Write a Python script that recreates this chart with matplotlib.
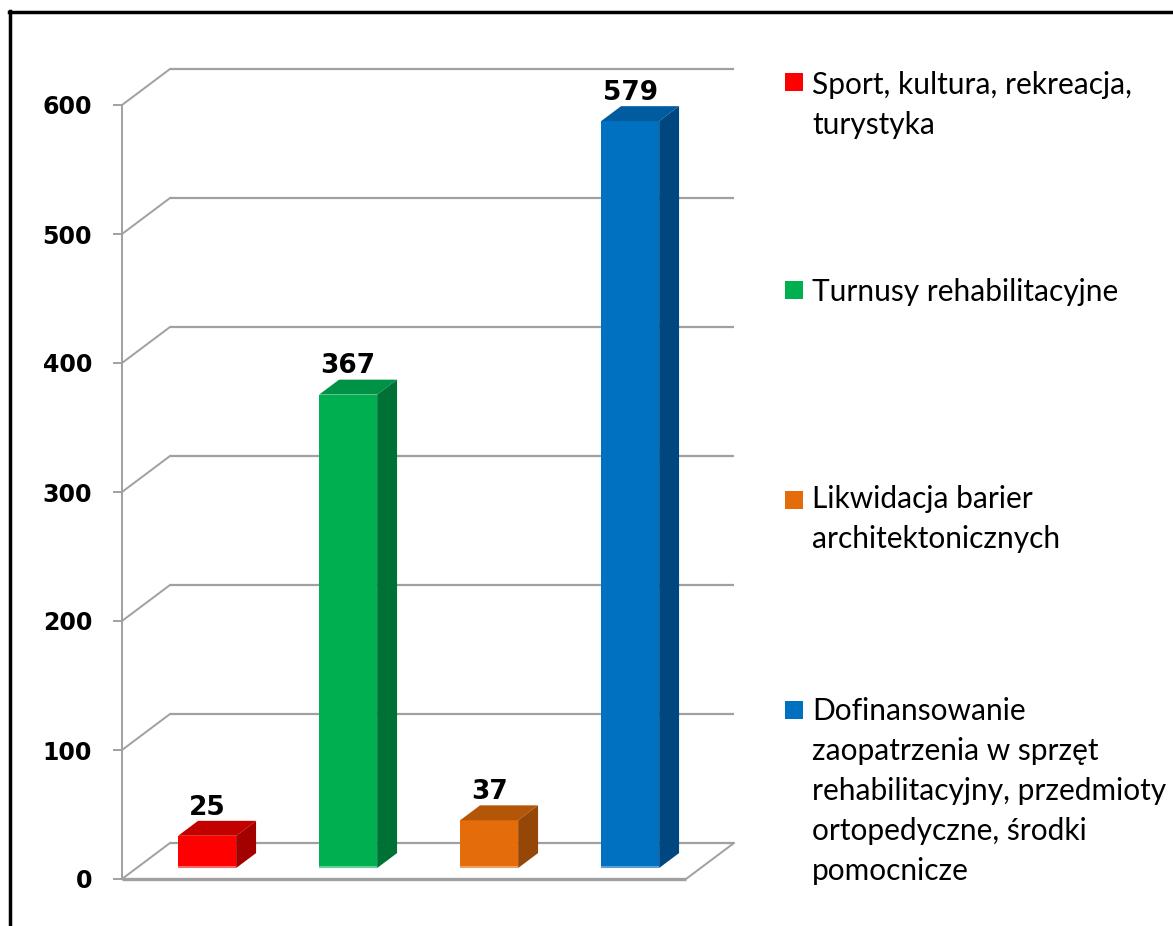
import matplotlib
matplotlib.use("Agg")
import matplotlib.pyplot as plt
from matplotlib.patches import Polygon, Rectangle
from matplotlib.lines import Line2D

# ---- data ----
categories = [
    "Sport, kultura, rekreacja,\nturystyka",
    "Turnusy rehabilitacyjne",
    "Likwidacja barier\narchitektonicznych",
    "Dofinansowanie\nzaopatrzenia w sprzęt\nrehabilitacyjny, przedmioty\nortopedyczne, środki\npomocnicze",
]
values = [25, 367, 37, 579]
front_colors = ["#FF0000", "#00B050", "#E46C0A", "#0070C0"]
top_colors = ["#C20000", "#009347", "#B35608", "#005C9E"]
side_colors = ["#A30000", "#007135", "#944706", "#00467F"]
base_colors = ["#FF6666", "#5FD08F", "#F0A060", "#5A9FD8"]
yticks = [0, 100, 200, 300, 400, 500, 600]

W, H = 1173, 926
fig = plt.figure(figsize=(W / 100, H / 100), dpi=100)
fig.patch.set_facecolor("white")

# front plane of the chart in pixels
left_px, right_px = 122, 686
bottom_px, top_px = 879, 105
ax = fig.add_axes([left_px / W, 1 - bottom_px / H,
                   (right_px - left_px) / W, (bottom_px - top_px) / H])
ax.set_xlim(-0.5, 3.5)
ax.set_ylim(0, 600)
ax.patch.set_visible(False)

# depth offsets (full depth) in data units
DX = 48 / 141.0
DY = 36 / 1.29
grid_c = "#A0A0A0"

# back wall gridlines and left side wall diagonals
for v in yticks:
    ax.plot([-0.5 + DX, 3.5 + DX], [v + DY, v + DY], color=grid_c, lw=1.6,
            clip_on=False, zorder=1, solid_capstyle="butt")
    ax.plot([-0.5, -0.5 + DX], [v, v + DY], color=grid_c, lw=1.4,
            clip_on=False, zorder=1)
# floor
ax.plot([-0.5, 3.5], [0, 0], color=grid_c, lw=2.4, clip_on=False, zorder=1,
        solid_capstyle="butt")
ax.plot([3.5, 3.5 + DX], [0, DY], color=grid_c, lw=1.4, clip_on=False, zorder=1)

# bars
d0, d1 = 0.305, 0.72
hw = 58 / 141.0 / 2
xs = list(range(len(values)))
ax.bar([x + d0 * DX for x in xs], values, width=2 * hw, bottom=d0 * DY,
       color=front_colors, zorder=3, linewidth=0)
for x, v, tc, sc, bc in zip(xs, values, top_colors, side_colors, base_colors):
    top = Polygon([(x - hw + d0 * DX, v + d0 * DY), (x + hw + d0 * DX, v + d0 * DY),
                   (x + hw + d1 * DX, v + d1 * DY), (x - hw + d1 * DX, v + d1 * DY)],
                  closed=True, facecolor=tc, edgecolor="none", zorder=3, clip_on=False)
    side = Polygon([(x + hw + d0 * DX, d0 * DY), (x + hw + d1 * DX, d1 * DY),
                    (x + hw + d1 * DX, v + d1 * DY), (x + hw + d0 * DX, v + d0 * DY)],
                   closed=True, facecolor=sc, edgecolor="none", zorder=3, clip_on=False)
    ax.add_patch(top)
    ax.add_patch(side)
    ax.plot([x - hw + d0 * DX, x + hw + d0 * DX], [d0 * DY + 0.6, d0 * DY + 0.6],
            color=bc, lw=1.5, zorder=4, solid_capstyle="butt")
    ax.annotate(str(v), xy=(x + d0 * DX, v + d1 * DY), xytext=(0, 4.5),
                textcoords="offset points", ha="center", va="baseline",
                fontsize=19, fontweight="bold", family="DejaVu Sans",
                color="black", zorder=5, annotation_clip=False)

# axes styling
for s in ["top", "right", "bottom"]:
    ax.spines[s].set_visible(False)
ax.spines["left"].set_color(grid_c)
ax.spines["left"].set_linewidth(1.4)
ax.set_xticks([])
ax.set_yticks(yticks)
ax.tick_params(axis="y", direction="out", length=6.5, width=1.4, color=grid_c,
               pad=15, labelsize=17)
for lab in ax.get_yticklabels():
    lab.set_fontweight("bold")
    lab.set_family("DejaVu Sans")

# legend (manual, matching uneven Excel spacing)
marker_x = 785
marker_size = 18
text_x = 812
marker_centers = [82, 290, 500, 710]
text_tops = [71, 278, 485, 697]
for label, c, yc, yt in zip(categories, front_colors, marker_centers, text_tops):
    fig.add_artist(Rectangle((marker_x / W, 1 - (yc + marker_size / 2) / H),
                             marker_size / W, marker_size / H,
                             transform=fig.transFigure, facecolor=c,
                             edgecolor="none"))
    fig.text(text_x / W, 1 - yt / H, label, ha="left", va="top",
             fontsize=21.5, family="Lato", color="black", linespacing=1.52)

# outer frame (left and top)
fig.add_artist(Line2D([10 / W, 10 / W], [0, 1 - 11 / H], transform=fig.transFigure,
                      color="black", lw=2.5))
fig.add_artist(Line2D([9 / W, 1], [1 - 12 / H, 1 - 12 / H], transform=fig.transFigure,
                      color="black", lw=2.5))

fig.savefig("out.png", dpi=100, facecolor="white")
